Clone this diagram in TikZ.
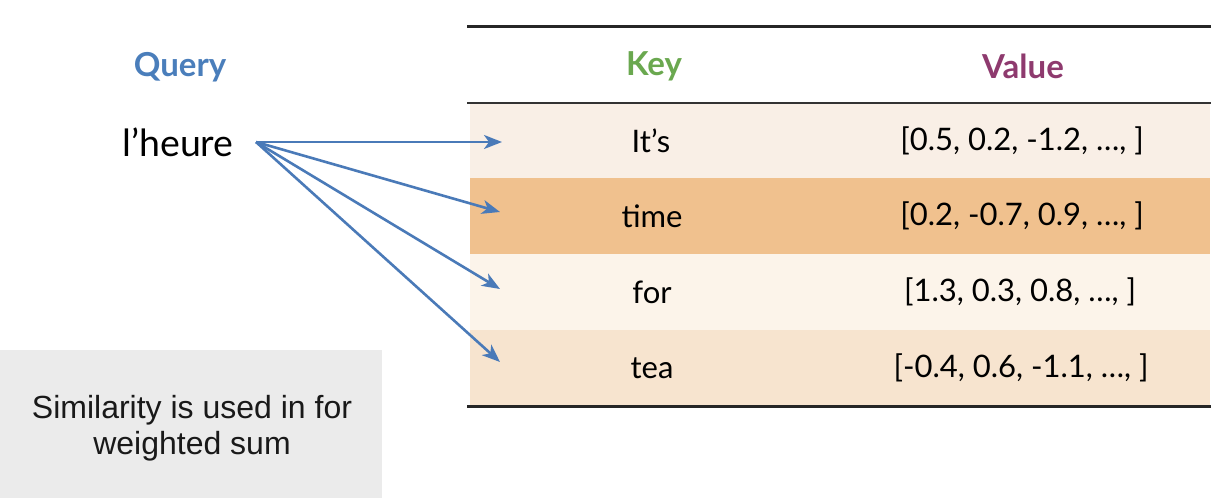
\documentclass[tikz,border=0pt]{standalone}
\usepackage{fontspec}
\setmainfont{Lato}
\newfontfamily\arialf{Liberation Sans}
\usetikzlibrary{arrows.meta}
\definecolor{rowA}{HTML}{F9EFE6}
\definecolor{rowB}{HTML}{F0C18E}
\definecolor{rowC}{HTML}{FCF4EA}
\definecolor{rowD}{HTML}{F7E4CF}
\definecolor{qblue}{HTML}{4A7EBB}
\definecolor{ablue}{HTML}{4A7AB8}
\definecolor{kgreen}{HTML}{6AA84F}
\definecolor{vpurple}{HTML}{8E3A6E}
\definecolor{gbox}{HTML}{EBEBEB}
\tikzset{
  rowbox/.style={draw=none, minimum width=740pt, inner sep=0pt},
  hdr/.style={font=\bfseries\fontsize{33}{38}\selectfont, inner sep=0pt},
  cell/.style={font=\fontsize{31}{36}\selectfont, inner sep=0pt},
  qarrow/.style={draw=ablue, line width=2.6pt, -{Stealth[length=18pt,width=14pt,inset=5pt]}},
  rulethick/.style={line width=3pt, draw=black!85},
  rulethin/.style={line width=2pt, draw=black!80},
}
\begin{document}
\begin{tikzpicture}[x=1pt,y=-1pt]
\useasboundingbox[fill=white] (0,0) rectangle (1230,502);
% rows
\node[rowbox, fill=rowA, minimum height=75pt] (r1) at (840,140.5) {};
\node[rowbox, fill=rowB, minimum height=76pt] (r2) at (840,216) {};
\node[rowbox, fill=rowC, minimum height=76pt] (r3) at (840,292) {};
\node[rowbox, fill=rowD, minimum height=75pt] (r4) at (840,367) {};
% rules
\coordinate (t1) at (467,27); \coordinate (t2) at (1211,27);
\coordinate (h1) at (467,103); \coordinate (h2) at (1211,103);
\coordinate (b1) at (467,406); \coordinate (b2) at (1211,406);
\draw[rulethick] (t1) -- (t2);
\draw[rulethin] (h1) -- (h2);
\draw[rulethick] (b1) -- (b2);
% headers
\node[hdr, text=qblue] (query) at (180,67) {Query};
\node[hdr, text=kgreen] (key) at (654,66) {Key};
\node[hdr, text=vpurple] (value) at (1023,66) {Value};
% cells
\node[cell] (k1) at (651,141) {It’s};
\node[cell] (v1) at (1022,141) {[0.5, 0.2, -1.2, …, ]};
\node[cell] (k2) at (652,216) {time};
\node[cell] (v2) at (1022,216) {[0.2, -0.7, 0.9, …, ]};
\node[cell] (k3) at (652,292) {for};
\node[cell] (v3) at (1020,292) {[1.3, 0.3, 0.8, …, ]};
\node[cell] (k4) at (652,368) {tea};
\node[cell] (v4) at (1021,368) {[-0.4, 0.6, -1.1, …, ]};
% query word
\node[font=\fontsize{37.5}{42}\selectfont, inner sep=0pt] (heure) at (178,142) {l’heure};
\coordinate (qs) at (256,142);
\coordinate (e1) at (502,142);
\coordinate (e2) at (500,212);
\coordinate (e3) at (500,289);
\coordinate (e4) at (500,362);
\draw[qarrow] (qs) -- (e1);
\draw[qarrow] (qs) -- (e2);
\draw[qarrow] (qs) -- (e3);
\draw[qarrow] (qs) -- (e4);
% gray box
\fill[gbox] (0,350) rectangle (382,498);
\node[inner sep=0pt, align=center,
  font=\arialf\fontsize{32}{36}\selectfont, text=black!90] (note) at (192,428)
  {Similarity is used in for\\weighted sum};
\end{tikzpicture}
\end{document}
